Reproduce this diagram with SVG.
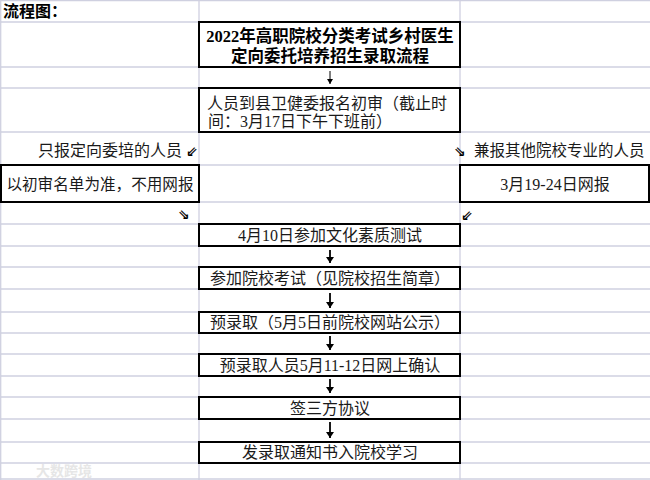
<svg xmlns="http://www.w3.org/2000/svg" width="650" height="480" viewBox="0 0 650 480">
<defs>
<style>
.grid line{stroke:#cfd0e0;stroke-width:1.3}
.box{fill:#fff;stroke:#000;stroke-width:2}
.t{font-family:"Liberation Serif","Noto Sans CJK SC",serif;font-size:16px;fill:#1a1a1a}
.c{text-anchor:middle}
.b{font-weight:bold;fill:#000}
.sym{font-family:"DejaVu Sans",sans-serif;font-size:14px;font-weight:bold;fill:#000}
.ar{stroke:#000;stroke-width:1.8;fill:none}
</style>
<marker id="ah" viewBox="0 0 8 8" refX="8" refY="4" markerWidth="8" markerHeight="8" markerUnits="userSpaceOnUse" orient="auto">
<path d="M2,0 L8,4 L2,8 Z" fill="#000"/>
</marker>
<marker id="ahs" viewBox="0 0 6 6" refX="6" refY="3" markerWidth="6" markerHeight="6" markerUnits="userSpaceOnUse" orient="auto">
<path d="M1,0 L6,3 L1,6 Z" fill="#000"/>
</marker>
</defs>
<rect width="650" height="480" fill="#fff"/>
<g class="grid">
<line x1="0" y1="0.7" x2="650" y2="0.7"/>
<line x1="0" y1="22" x2="650" y2="22"/>
<line x1="0" y1="67" x2="650" y2="67"/>
<line x1="0" y1="88" x2="650" y2="88"/>
<line x1="0" y1="132" x2="650" y2="132"/>
<line x1="0" y1="165" x2="650" y2="165"/>
<line x1="0" y1="202" x2="650" y2="202"/>
<line x1="0" y1="224" x2="650" y2="224"/>
<line x1="0" y1="246" x2="650" y2="246"/>
<line x1="0" y1="267" x2="650" y2="267"/>
<line x1="0" y1="289" x2="650" y2="289"/>
<line x1="0" y1="312" x2="650" y2="312"/>
<line x1="0" y1="333" x2="650" y2="333"/>
<line x1="0" y1="354" x2="650" y2="354"/>
<line x1="0" y1="376" x2="650" y2="376"/>
<line x1="0" y1="397" x2="650" y2="397"/>
<line x1="0" y1="419" x2="650" y2="419"/>
<line x1="0" y1="442" x2="650" y2="442"/>
<line x1="0" y1="463" x2="650" y2="463"/>
<line x1="0" y1="479" x2="650" y2="479"/>
<line x1="0.7" y1="0" x2="0.7" y2="480"/>
<line x1="199" y1="0" x2="199" y2="480"/>
<line x1="460" y1="0" x2="460" y2="480"/>
</g>
<text class="t b" x="3" y="17">流程图：</text>
<g id="title">
<rect class="box" x="199" y="22" width="261" height="45"/>
<text class="t b c" x="330" y="42" style="font-size:16.5px">2022年高职院校分类考试乡村医生</text>
<text class="t b c" x="330" y="62" style="font-size:16.5px">定向委托培养招生录取流程</text>
</g>
<g id="n1">
<rect class="box" x="199" y="88" width="261" height="44"/>
<text class="t" x="207" y="109">人员到县卫健委报名初审（截止时</text>
<text class="t" x="208" y="127">间：3月17日下午下班前）</text>
</g>
<g id="lbl-left">
<text class="t" x="38" y="156">只报定向委培的人员</text>
</g>
<g id="lbl-right">
<text class="t" x="474" y="156" style="font-size:15.5px">兼报其他院校专业的人员</text>
</g>
<g id="n-left">
<rect class="box" x="1" y="165" width="198" height="37"/>
<text class="t c" x="100" y="190" style="font-size:15.6px">以初审名单为准，不用网报</text>
</g>
<g id="n-right">
<rect class="box" x="460" y="165" width="189" height="37"/>
<text class="t c" x="555" y="190">3月19-24日网报</text>
</g>
<g id="n2">
<rect class="box" x="199" y="224" width="261" height="22"/>
<text class="t c" x="330" y="241">4月10日参加文化素质测试</text>
</g>
<g id="n3">
<rect class="box" x="199" y="267" width="261" height="22"/>
<text class="t c" x="330" y="284">参加院校考试（见院校招生简章）</text>
</g>
<g id="n4">
<rect class="box" x="199" y="312" width="261" height="21"/>
<text class="t c" x="330" y="328">预录取（5月5日前院校网站公示）</text>
</g>
<g id="n5">
<rect class="box" x="199" y="354" width="261" height="22"/>
<text class="t c" x="330" y="371">预录取人员5月11-12日网上确认</text>
</g>
<g id="n6">
<rect class="box" x="199" y="397" width="261" height="22"/>
<text class="t c" x="330" y="414">签三方协议</text>
</g>
<g id="n7">
<rect class="box" x="199" y="442" width="261" height="21"/>
<text class="t c" x="330" y="458">发录取通知书入院校学习</text>
</g>
<g id="connectors">
<line x1="330" y1="71" x2="330" y2="84" stroke="#000" stroke-width="1" marker-end="url(#ahs)"/>
<line class="ar" x1="330" y1="250" x2="330" y2="263" marker-end="url(#ah)"/>
<line class="ar" x1="330" y1="293" x2="330" y2="308" marker-end="url(#ah)"/>
<line class="ar" x1="330" y1="336" x2="330" y2="350" marker-end="url(#ah)"/>
<line class="ar" x1="330" y1="379" x2="330" y2="393" marker-end="url(#ah)"/>
<line class="ar" x1="330" y1="422" x2="330" y2="438" marker-end="url(#ah)"/>
<text class="sym" x="186" y="156">⇙</text>
<text class="sym" x="178" y="219">⇘</text>
<text class="sym" x="454" y="156">⇘</text>
<text class="sym" x="461" y="220">⇙</text>
</g>
<text x="36" y="476" font-family="'Noto Sans CJK SC',sans-serif" font-size="14" font-weight="bold" fill="#e6e6e6">大数跨境</text>
</svg>
